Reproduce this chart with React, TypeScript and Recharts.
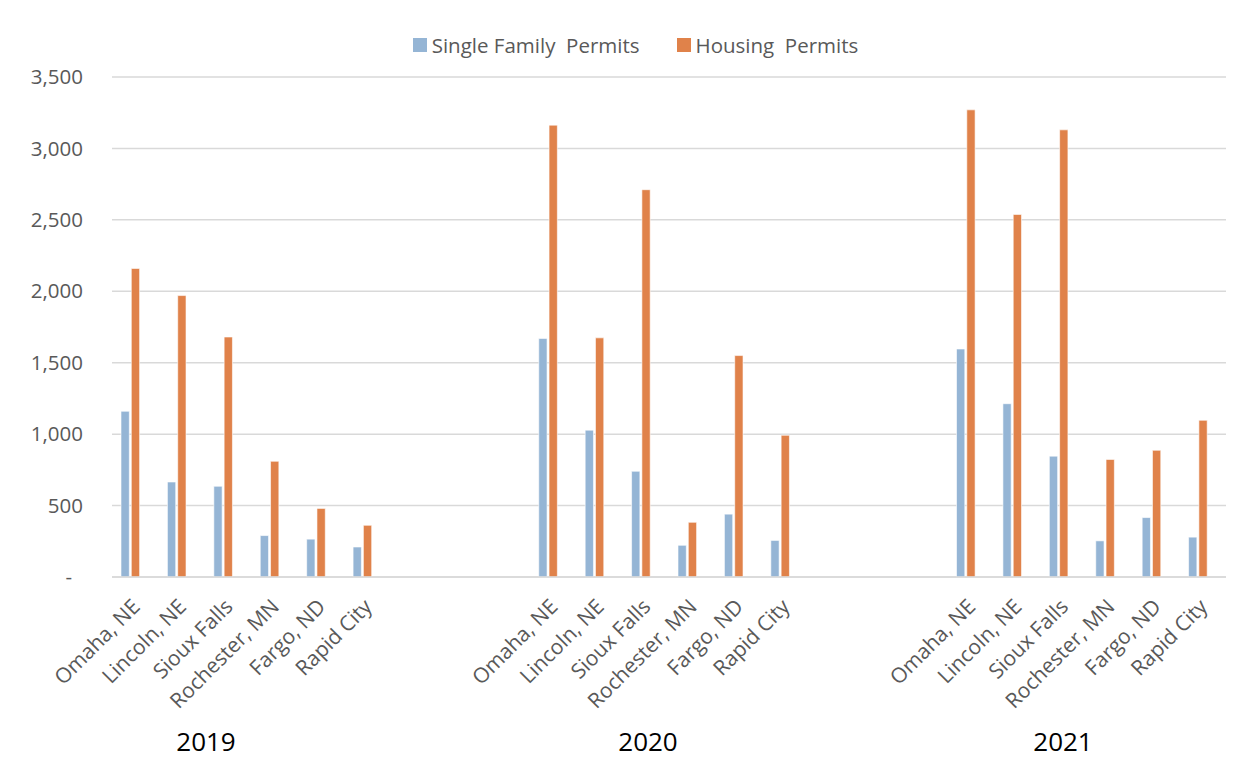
import { BarChart, Bar, XAxis, YAxis, CartesianGrid } from "recharts";

const cities = ["Omaha, NE", "Lincoln, NE", "Sioux Falls", "Rochester, MN", "Fargo, ND", "Rapid City"];
const years = ["2019", "2020", "2021"];

const singleFamily2019 = [1160, 665, 635, 290, 265, 210];
const housing2019 = [2160, 1970, 1680, 810, 480, 362];
const singleFamily2020 = [1670, 1028, 740, 222, 440, 256];
const housing2020 = [3163, 1674, 2711, 383, 1550, 992];
const singleFamily2021 = [1596, 1213, 846, 253, 416, 279];
const housing2021 = [3270, 2538, 3130, 823, 887, 1097];

const yTicks = [0, 500, 1000, 1500, 2000, 2500, 3000, 3500];

const singleFamily = [singleFamily2019, singleFamily2020, singleFamily2021];
const housing = [housing2019, housing2020, housing2021];

const SERIES = [
    { key: "single", name: "Single Family  Permits", color: "#95B5D5" },
    { key: "housing", name: "Housing  Permits", color: "#E0824A" },
];

// empty slots between the year groups
const GAP = 3;

const rows: any[] = [];
years.forEach((yr, yi) => {
    cities.forEach((c, ci) => {
        rows.push({ key: `${yr}-${ci}`, city: c, single: singleFamily[yi][ci], housing: housing[yi][ci] });
    });
    if (yi < years.length - 1) {
        for (let g = 0; g < GAP; g++) rows.push({ key: `${yr}-gap${g}`, city: "" });
    }
});

const FONT = "'Open Sans', sans-serif";
const GREY = "#595959";
const FRAME = "#D9D9D9";

function CityTick(props: any) {
    const { x, y, payload } = props;
    const label = rows[payload.index]?.city;
    if (!label) return null;
    const ax = x + 6;
    const ay = y + 31;
    return (
        <text
            x={ax}
            y={ay}
            transform={`rotate(-45, ${ax}, ${ay})`}
            textAnchor="end"
            fill={GREY}
            fontSize={21}
            fontFamily={FONT}
        >
            {label}
        </text>
    );
}

function ValueTick(props: any) {
    const { x, y, payload } = props;
    const v = payload.value;
    return (
        <text
            x={v === 0 ? x - 11 : x}
            y={y}
            dy="0.35em"
            textAnchor="end"
            fill={GREY}
            fontSize={20.5}
            fontFamily={FONT}
        >
            {v === 0 ? "-" : v.toLocaleString("en-US")}
        </text>
    );
}

const yearLabelX = [206, 648, 1063];

export default function App() {
    return (
        <div
            style={{
                position: "relative",
                width: 1252,
                height: 766,
                marginLeft: -8,
                marginTop: -8,
                overflow: "hidden",
                background: "#fff",
                fontFamily: FONT,
            }}
        >
            <BarChart
                width={1252}
                height={766}
                data={rows}
                margin={{ top: 77, right: 26, bottom: 0, left: 0 }}
                barSize={8.3}
                barGap={2}
            >
                <CartesianGrid vertical={false} stroke="#D9D9D9" strokeWidth={1.5} />
                <XAxis
                    dataKey="key"
                    interval={0}
                    height={189}
                    tickSize={0}
                    tickMargin={0}
                    tickLine={false}
                    axisLine={{ stroke: "#D9D9D9", strokeWidth: 1.5 }}
                    tick={<CityTick />}
                />
                <YAxis
                    width={112}
                    domain={[0, 3500]}
                    ticks={yTicks}
                    interval={0}
                    tickSize={0}
                    tickMargin={29}
                    tickLine={false}
                    axisLine={false}
                    tick={<ValueTick />}
                />
                {SERIES.map((s) => (
                    <Bar
                        key={s.key}
                        dataKey={s.key}
                        name={s.name}
                        fill={s.color}
                        stroke="#fff"
                        strokeWidth={0.6}
                        isAnimationActive={false}
                    />
                ))}
                {/* third, empty slot in each cluster, as in the source */}
                <Bar dataKey="spacer" fill="none" isAnimationActive={false} />
            </BarChart>

            {/* chart-area frame: only its left and top edges are inside the picture */}
            <div style={{ position: "absolute", left: 6, top: 5, width: 2, height: 770, background: FRAME, zIndex: 2 }} />
            <div style={{ position: "absolute", left: 6, top: 5, width: 1260, height: 2, background: FRAME, zIndex: 2 }} />

            <div
                style={{
                    position: "absolute",
                    left: 0,
                    top: 31,
                    width: 1271,
                    display: "flex",
                    justifyContent: "center",
                    alignItems: "center",
                    gap: 37,
                    fontSize: 20.5,
                    color: GREY,
                }}
            >
                {SERIES.map((s) => (
                    <div key={s.key} style={{ display: "flex", alignItems: "center" }}>
                        <span style={{ width: 14, height: 14, background: s.color, marginRight: 5 }} />
                        <span style={{ whiteSpace: "pre" }}>{s.name}</span>
                    </div>
                ))}
            </div>

            {years.map((yr, i) => (
                <div
                    key={yr}
                    style={{
                        position: "absolute",
                        left: yearLabelX[i] - 50,
                        top: 723,
                        width: 100,
                        textAlign: "center",
                        fontSize: 26,
                        color: "#000",
                    }}
                >
                    {yr}
                </div>
            ))}
        </div>
    );
}
